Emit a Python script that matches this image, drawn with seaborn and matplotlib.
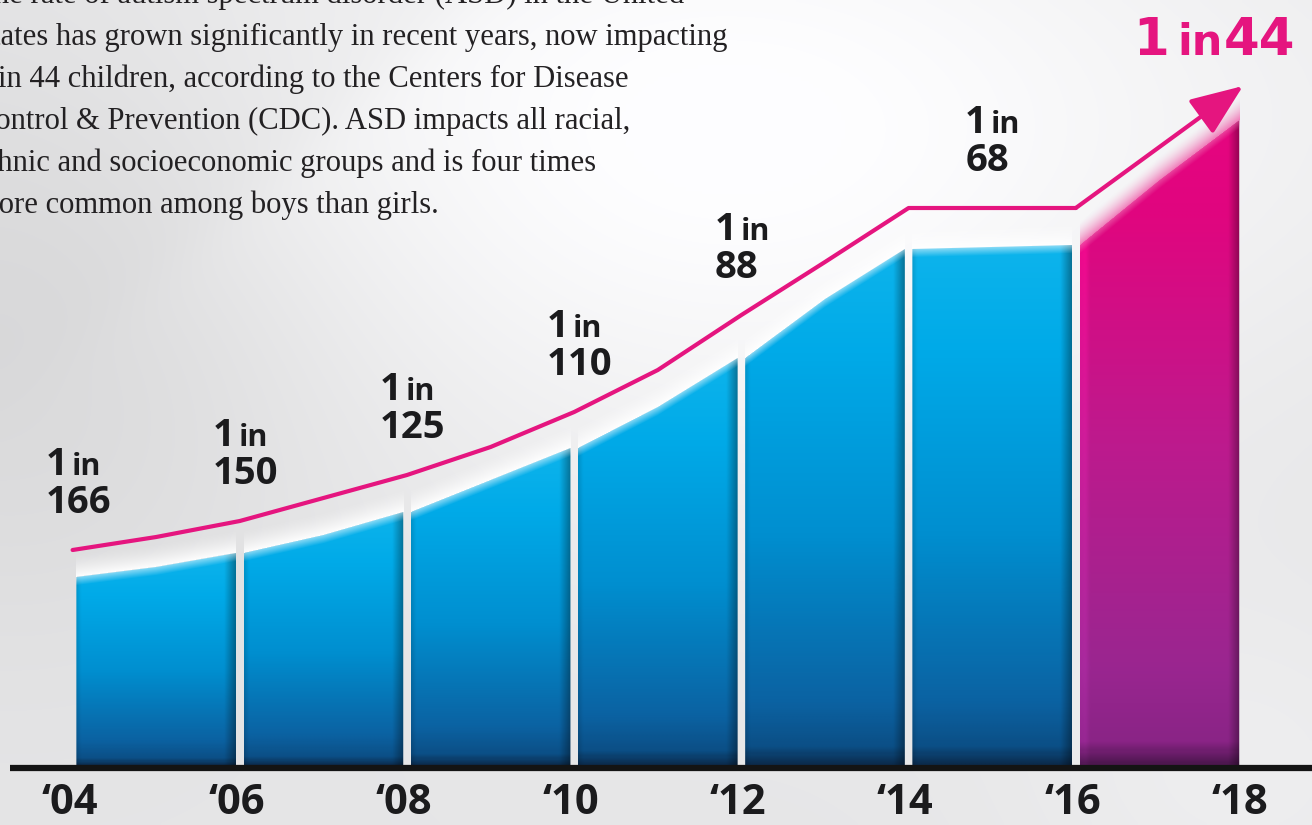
import numpy as np
import matplotlib
matplotlib.use("Agg")
import matplotlib.pyplot as plt
import seaborn as sns
from matplotlib import transforms
from matplotlib.colors import LinearSegmentedColormap, to_rgb
from matplotlib.patches import Polygon

# values (bar and line heights are relative, 0 = baseline)
years = list(range(2004, 2019))
bar_height = [189, 199, 213, 231, 254, 286, 318, 359, 408, 467, 517, 519, 521, 586, 646]
line_years = list(range(2004, 2017))
line_height = [216, 229, 245, 268, 291, 319, 354, 396, 451, 504, 558, 558, 558]
arrow_year = 2018
arrow_height = 680

tick_years = [2004, 2006, 2008, 2010, 2012, 2014, 2016, 2018]
tick_labels = ["\u201804", "\u201806", "\u201808", "\u201810", "\u201812", "\u201814", "\u201816", "\u201818"]

label_years = [2004, 2006, 2008, 2010, 2012, 2015]
label_numbers = ["166", "150", "125", "110", "88", "68"]
big_number = "44"

paragraph = [
    "The rate of autism spectrum disorder (ASD) in the United",
    "States has grown significantly in recent years, now impacting",
    "1 in 44 children, according to the Centers for Disease",
    "Control & Prevention (CDC). ASD impacts all racial,",
    "ethnic and socioeconomic groups and is four times",
    "more common among boys than girls.",
]

ink = "#1b1b1d"
pink = "#e5157f"

sns.set_theme(style="white")

W, H = 1312, 825
fig = plt.figure(figsize=(W / 100, H / 100), dpi=100)
ax = fig.add_axes([0, 0, 1, 1])

# pixel mapping: one year = 83.6 px, 2004 at x=72.6 px, baseline 59 px from the bottom
px_year = 83.6
x_left = 2004 - 72.6 / px_year
x_right = 2004 + (W - 72.6) / px_year
ax.set_xlim(x_left, x_right)
ax.set_ylim(-59, H - 59)
ax.axis("off")

# background: soft grey, lighter towards the top centre, darker on the left
gx, gy = np.meshgrid(np.linspace(0, W, 330), np.linspace(0, H, 210))
bg = 0.905 + 0.075 * np.exp(-(((gx - 720) / 520) ** 2 + ((gy - 150) / 380) ** 2))
bg = bg - 0.06 * np.exp(-(((gx - 40) / 330) ** 2 + ((gy - 330) / 300) ** 2))
bg = bg + 0.03 * np.exp(-(((gx - 1250) / 250) ** 2 + ((gy - 780) / 200) ** 2))
bg = bg + 0.025 / (1 + np.exp(-(gx * 0.9 + gy - 420) / 18)) * np.exp(-((gy - 100) / 260) ** 2)
bg = np.clip(bg, 0, 1)
bg_rgb = np.dstack([bg * 0.995, bg * 0.995, bg])
ax.imshow(bg_rgb, extent=[x_left, x_right, -59, H - 59], aspect="auto",
          zorder=0, interpolation="bilinear")

blue_cmap = LinearSegmentedColormap.from_list(
    "blue", [(0, "#0b2c4e"), (0.035, "#0b4f86"), (0.12, "#0b62a2"),
             (0.45, "#008fd0"), (0.8, "#00aae8"), (1, "#0db4ec")])
pink_cmap = LinearSegmentedColormap.from_list(
    "pink", [(0, "#4e1750"), (0.035, "#8a2486"), (0.15, "#9a2690"),
             (0.5, "#bd1a8d"), (0.85, "#e0067f"), (1, "#e6057f")])

gap = 0.045
for i in range(0, len(years) - 2, 2):
    xs = np.array(years[i:i + 3], dtype=float)
    hs = np.array(bar_height[i:i + 3], dtype=float)
    xs[0] += gap
    xs[-1] -= gap
    top = hs.max()
    verts = [(xs[0], 0)] + list(zip(xs, hs)) + [(xs[-1], 0)]
    poly = Polygon(verts, closed=True, transform=ax.transData)
    is_pink = years[i + 2] == 2018
    cmap = pink_cmap if is_pink else blue_cmap
    v = np.linspace(0, 1, 300)[:, None]
    rgba = cmap(np.repeat(v, 120, axis=1))
    u = np.linspace(0, 1, 120)
    shade = np.ones_like(u)
    shade = shade - 0.35 * np.clip((u - 0.93) / 0.07, 0, 1)
    shade = shade - 0.12 * np.clip((0.03 - u) / 0.03, 0, 1)
    if is_pink:
        shade = shade + 0.2 * np.clip((0.06 - u) / 0.06, 0, 1)
    rgba[:, :, :3] = np.clip(rgba[:, :, :3] * shade[None, :, None], 0, 1)
    im = ax.imshow(rgba, extent=[xs[0], xs[-1], 0, top], origin="lower",
                   aspect="auto", zorder=2, interpolation="bilinear")
    im.set_clip_path(poly)

    # soft glow along the top edge of the bar
    gcol = np.linspace(xs[0], xs[-1], 160)
    grow = np.arange(0, top + 40)
    edge = np.interp(gcol, xs, hs)
    d = grow[:, None] - edge[None, :]
    alpha = np.where(d >= 0, np.clip(1 - d / 24, 0, 1) ** 1.6 * 0.95,
                     np.clip(1 + d / 9, 0, 1) * 0.55)
    glow_c = to_rgb("#f07ab8") if is_pink else (1, 1, 1)
    glow = np.zeros(alpha.shape + (4,))
    glow[..., :3] = glow_c
    glow[..., 3] = alpha
    ax.imshow(glow, extent=[xs[0], xs[-1], 0, top + 40], origin="lower",
              aspect="auto", zorder=3, interpolation="bilinear")

# baseline
ax.plot([x_left + 10 / px_year, x_right], [-2, -2], color="#141414", lw=4.5, zorder=4,
        solid_capstyle="butt")

# pink trend line and arrow
sns.lineplot(x=line_years, y=line_height, color=pink, linewidth=3, ax=ax,
             zorder=5, legend=False)
ax.annotate("", xy=(arrow_year, arrow_height), xytext=(line_years[-1], line_height[-1]),
            arrowprops=dict(arrowstyle="-|>,head_length=1.25,head_width=0.5",
                            color=pink, lw=3, mutation_scale=26,
                            shrinkA=0, shrinkB=0), zorder=5)

# year labels
for yr, lab in zip(tick_years, tick_labels):
    ax.text(yr - 0.04, -48, lab, ha="center", va="baseline", fontsize=30,
            fontweight="bold", family="Open Sans", color=ink, zorder=6)

# "1 in N" labels above the line
for yr, num in zip(label_years, label_numbers):
    yv = line_height[line_years.index(yr)] + 37
    t_one = transforms.offset_copy(ax.transData, fig=fig, x=-27, y=38, units="dots")
    t_in = transforms.offset_copy(ax.transData, fig=fig, x=-1, y=38, units="dots")
    t_num = transforms.offset_copy(ax.transData, fig=fig, x=-27, y=0, units="dots")
    ax.text(yr, yv, "1", transform=t_one, fontsize=27.5, fontweight="bold",
            family="Open Sans", color=ink, va="baseline", ha="left", zorder=6)
    ax.text(yr, yv, "in", transform=t_in, fontsize=22, fontweight="bold",
            family="Open Sans", color=ink, va="baseline", ha="left", zorder=6)
    ax.text(yr, yv, num, transform=t_num, fontsize=27.5, fontweight="bold",
            family="Open Sans", color=ink, va="baseline", ha="left", zorder=6)

# big pink label
for txt, dx, fs in [("1", -110, 37), ("in", -66, 31), (big_number, -19, 37)]:
    tr = transforms.offset_copy(ax.transData, fig=fig, x=dx, y=31, units="dots")
    ax.text(arrow_year, arrow_height, txt, transform=tr, fontsize=fs,
            fontweight="bold", family="DejaVu Sans", color=pink,
            va="baseline", ha="left", zorder=6)

# paragraph, cut at the top and left edges like the source
for k, line in enumerate(paragraph):
    fig.text(-25 / W, 1 - (3 + 42 * k) / H, line, fontsize=22.1,
             family="Liberation Serif", color="#232123", va="baseline", ha="left")

fig.savefig("out.png", dpi=100)
